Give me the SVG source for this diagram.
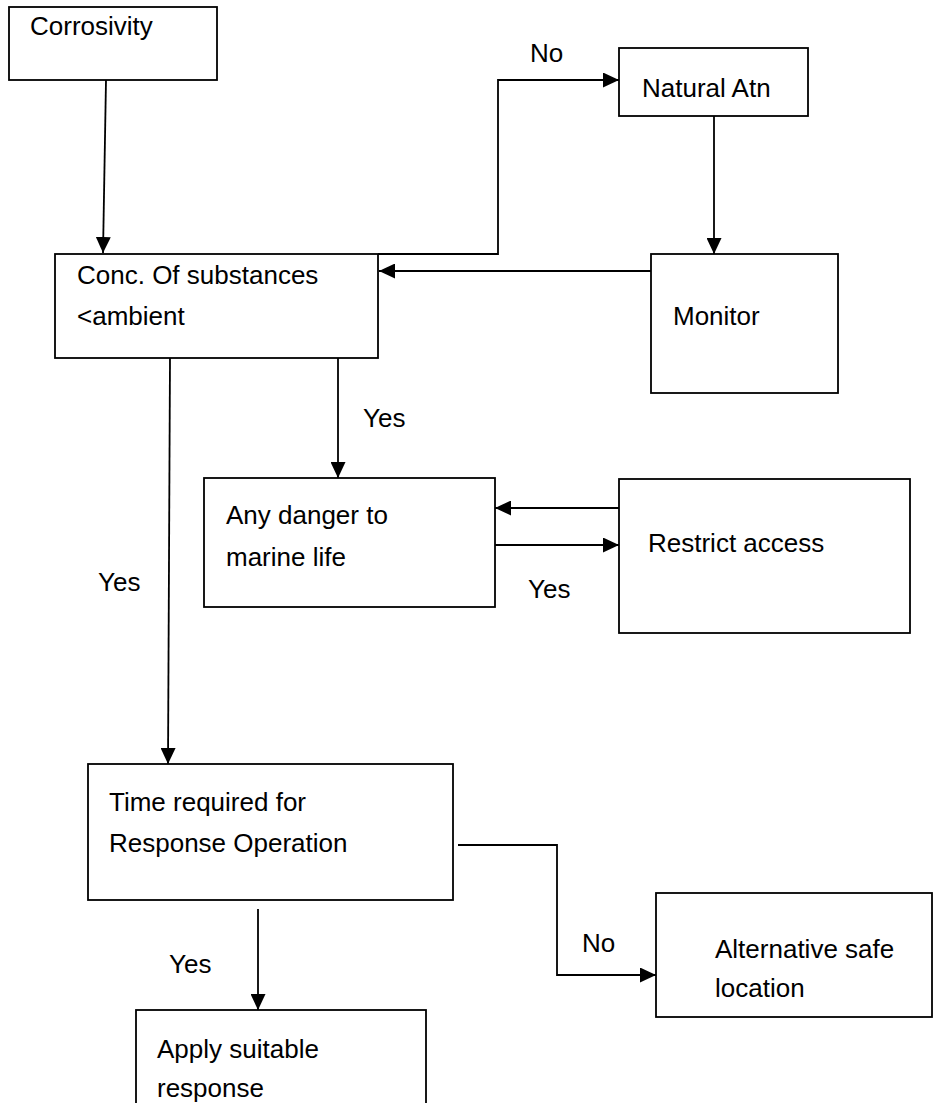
<svg xmlns="http://www.w3.org/2000/svg" width="936" height="1103" viewBox="0 0 936 1103">
<style>
.box{fill:#fff;stroke:#000;stroke-width:1.8}
.t{font-family:"Liberation Sans",Arial,sans-serif;font-size:26px;fill:#000}
.c{fill:none;stroke:#000;stroke-width:1.8}
</style>
<defs>
<marker id="ah" markerUnits="userSpaceOnUse" markerWidth="16" markerHeight="15" refX="16" refY="7.5" orient="auto" viewBox="0 0 16 15">
<path d="M0,0 L16,7.5 L0,15 z" fill="#000"/>
</marker>
</defs>
<rect width="936" height="1103" fill="#fff"/>
<g id="connectors">
<path class="c" d="M106,80 L103,253" marker-end="url(#ah)"/>
<path class="c" d="M378,254 L498,254 L498,80 L619,80" marker-end="url(#ah)"/>
<path class="c" d="M714,116 L714,254" marker-end="url(#ah)"/>
<path class="c" d="M651,271 L379,271" marker-end="url(#ah)"/>
<path class="c" d="M338,358 L338,478" marker-end="url(#ah)"/>
<path class="c" d="M619,508 L495,508" marker-end="url(#ah)"/>
<path class="c" d="M495,545 L619,545" marker-end="url(#ah)"/>
<path class="c" d="M170,358 L168,764" marker-end="url(#ah)"/>
<path class="c" d="M458,845 L557,845 L557,975 L656,975" marker-end="url(#ah)"/>
<path class="c" d="M258,909 L258,1010" marker-end="url(#ah)"/>
<text class="t" x="530" y="62">No</text>
<text class="t" x="363" y="427">Yes</text>
<text class="t" x="528" y="598">Yes</text>
<text class="t" x="98" y="591">Yes</text>
<text class="t" x="582" y="952">No</text>
<text class="t" x="169" y="973">Yes</text>
</g>
<g id="corrosivity">
<rect class="box" x="9" y="7" width="208" height="73"/>
<text class="t" x="30" y="35">Corrosivity</text>
</g>
<g id="natural-atn">
<rect class="box" x="619" y="48" width="189" height="68"/>
<text class="t" x="642" y="97">Natural Atn</text>
</g>
<g id="conc">
<rect class="box" x="55" y="254" width="323" height="104"/>
<text class="t" x="77" y="284">Conc. Of substances</text>
<text class="t" x="77" y="325">&lt;ambient</text>
</g>
<g id="monitor">
<rect class="box" x="651" y="254" width="187" height="139"/>
<text class="t" x="673" y="325">Monitor</text>
</g>
<g id="any-danger">
<rect class="box" x="204" y="478" width="291" height="129"/>
<text class="t" x="226" y="524">Any danger to</text>
<text class="t" x="226" y="566">marine life</text>
</g>
<g id="restrict-access">
<rect class="box" x="619" y="479" width="291" height="154"/>
<text class="t" x="648" y="552">Restrict access</text>
</g>
<g id="time-required">
<rect class="box" x="88" y="764" width="365" height="136"/>
<text class="t" x="109" y="811">Time required for</text>
<text class="t" x="109" y="852">Response Operation</text>
</g>
<g id="alternative">
<rect class="box" x="656" y="893" width="276" height="124"/>
<text class="t" x="715" y="958">Alternative safe</text>
<text class="t" x="715" y="997">location</text>
</g>
<g id="apply">
<rect class="box" x="136" y="1010" width="290" height="110"/>
<text class="t" x="157" y="1058">Apply suitable</text>
<text class="t" x="157" y="1097">response</text>
</g>
</svg>
